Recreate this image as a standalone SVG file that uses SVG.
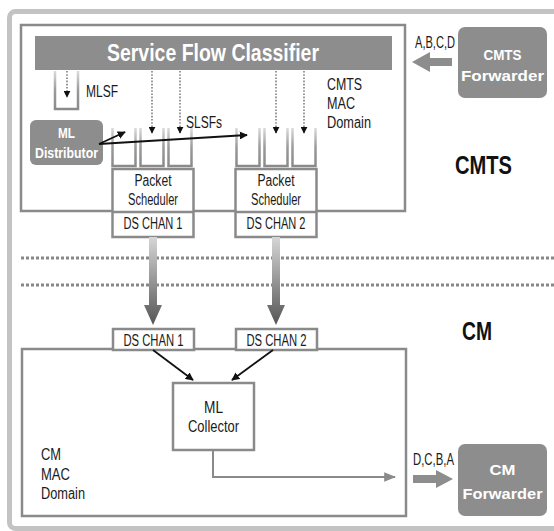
<svg xmlns="http://www.w3.org/2000/svg" width="554" height="531" viewBox="0 0 554 531">
  <style>
    text { font-family: "Liberation Sans", Arial, sans-serif; }
    .t { font-size: 16px; fill: #1a1a1a; }
    .tw { font-size: 15px; fill: #ffffff; font-weight: bold; }
    .big { font-size: 25px; fill: #111111; font-weight: bold; }
    .dom { fill: none; stroke: #8a8a8a; stroke-width: 2.5; }
    .box { fill: #ffffff; stroke: #8a8a8a; stroke-width: 2.5; }
    .solid { fill: #8d8d8d; }
    .queue { fill: none; stroke: url(#qgrad); stroke-width: 2.5; }
    .dot { stroke: #555555; stroke-width: 1.2; stroke-dasharray: 1.6 1.6; fill: none; }
    .blk { stroke: #111111; stroke-width: 1.8; fill: none; }
    .sep { stroke: #888888; stroke-width: 3; stroke-dasharray: 3 2; fill: none; }
  </style>
  <defs>
    <marker id="tri" viewBox="0 0 10 10" refX="9" refY="5" markerWidth="4.5" markerHeight="4.5" orient="auto" markerUnits="strokeWidth">
      <path d="M0,0 L10,5 L0,10 Z" fill="#111111"/>
    </marker>
    <marker id="tridot" viewBox="0 0 10 10" refX="9" refY="5" markerWidth="7" markerHeight="7" orient="auto" markerUnits="userSpaceOnUse">
      <path d="M0,0 L10,5 L0,10 Z" fill="#111111"/>
    </marker>
    <marker id="trigray" viewBox="0 0 10 10" refX="9" refY="5" markerWidth="6" markerHeight="6" orient="auto" markerUnits="strokeWidth">
      <path d="M0,1 L10,5 L0,9 Z" fill="#8a8a8a"/>
    </marker>
    <linearGradient id="qgrad" x1="0" y1="0" x2="0" y2="1">
      <stop offset="0" stop-color="#dcdcdc"/>
      <stop offset="0.5" stop-color="#9a9a9a"/>
      <stop offset="1" stop-color="#8a8a8a"/>
    </linearGradient>
    <linearGradient id="pipe" x1="0" y1="0" x2="0" y2="1">
      <stop offset="0" stop-color="#d6d6d6"/>
      <stop offset="1" stop-color="#555555"/>
    </linearGradient>
  </defs>

  <!-- outer frame -->
  <rect x="9.5" y="11.5" width="560" height="517" rx="6" fill="#ffffff" stroke="#c3c3c3" stroke-width="5"/>

  <!-- CMTS MAC domain -->
  <g id="cmts-domain">
    <rect class="dom" x="21" y="25" width="384" height="186"/>
    <text class="t" x="327" y="90" textLength="35" lengthAdjust="spacingAndGlyphs">CMTS</text>
    <text class="t" x="327" y="109" textLength="28" lengthAdjust="spacingAndGlyphs">MAC</text>
    <text class="t" x="327" y="128" textLength="44" lengthAdjust="spacingAndGlyphs">Domain</text>
  </g>

  <g id="classifier">
    <rect class="solid" x="35" y="36" width="357" height="34"/>
    <text x="213" y="61" text-anchor="middle" font-size="24" font-weight="bold" fill="#ffffff" textLength="212" lengthAdjust="spacingAndGlyphs">Service Flow Classifier</text>
  </g>

  <g id="mlsf">
    <path class="queue" d="M55,71 V109 H78 V71"/>
    <text class="t" x="86" y="97" textLength="32" lengthAdjust="spacingAndGlyphs">MLSF</text>
  </g>

  <g id="ml-distributor">
    <rect class="solid" x="30" y="120" width="73" height="45" rx="6"/>
    <text class="tw" x="66.5" y="138" text-anchor="middle" textLength="17" lengthAdjust="spacingAndGlyphs">ML</text>
    <text class="tw" x="66.5" y="158" text-anchor="middle" textLength="63" lengthAdjust="spacingAndGlyphs">Distributor</text>
  </g>

  <g id="queues-1">
    <path class="queue" d="M112.5,128 V166 H135.5 V128"/>
    <path class="queue" d="M140.5,128 V166 H163.5 V128"/>
    <path class="queue" d="M168.5,128 V166 H191.5 V128"/>
  </g>
  <g id="queues-2">
    <path class="queue" d="M236.5,128 V166 H259.5 V128"/>
    <path class="queue" d="M264.5,128 V166 H287.5 V128"/>
    <path class="queue" d="M292.5,128 V166 H315.5 V128"/>
  </g>
  <text class="t" x="186" y="128" textLength="36" lengthAdjust="spacingAndGlyphs">SLSFs</text>

  <g id="scheduler-1">
    <rect class="box" x="112.5" y="169" width="81" height="68"/>
    <line x1="112.5" y1="212" x2="193.5" y2="212" stroke="#8a8a8a" stroke-width="2.5"/>
    <text class="t" x="153" y="186" text-anchor="middle" textLength="37" lengthAdjust="spacingAndGlyphs">Packet</text>
    <text class="t" x="153" y="205" text-anchor="middle" textLength="50" lengthAdjust="spacingAndGlyphs">Scheduler</text>
    <text class="t" x="153" y="229" text-anchor="middle" textLength="59" lengthAdjust="spacingAndGlyphs">DS CHAN 1</text>
  </g>
  <g id="scheduler-2">
    <rect class="box" x="235.5" y="169" width="81" height="68"/>
    <line x1="235.5" y1="212" x2="316.5" y2="212" stroke="#8a8a8a" stroke-width="2.5"/>
    <text class="t" x="276" y="186" text-anchor="middle" textLength="37" lengthAdjust="spacingAndGlyphs">Packet</text>
    <text class="t" x="276" y="205" text-anchor="middle" textLength="50" lengthAdjust="spacingAndGlyphs">Scheduler</text>
    <text class="t" x="276" y="229" text-anchor="middle" textLength="59" lengthAdjust="spacingAndGlyphs">DS CHAN 2</text>
  </g>

  <g id="cmts-forwarder">
    <rect class="solid" x="458" y="27" width="89" height="71" rx="7"/>
    <text class="tw" x="502.5" y="60" text-anchor="middle" font-size="19" textLength="38" lengthAdjust="spacingAndGlyphs">CMTS</text>
    <text class="tw" x="502.5" y="81" text-anchor="middle" font-size="19" textLength="83" lengthAdjust="spacingAndGlyphs">Forwarder</text>
  </g>
  <text class="t" x="415" y="48" font-size="14" textLength="40" lengthAdjust="spacingAndGlyphs">A,B,C,D</text>

  <text class="big" x="455" y="174" textLength="57" lengthAdjust="spacingAndGlyphs">CMTS</text>
  <text class="big" x="462" y="340" textLength="30" lengthAdjust="spacingAndGlyphs">CM</text>

  <!-- CM MAC domain -->
  <g id="cm-domain">
    <rect class="dom" x="22" y="349" width="384" height="167"/>
    <text class="t" x="41" y="460" textLength="20" lengthAdjust="spacingAndGlyphs">CM</text>
    <text class="t" x="41" y="480" textLength="29" lengthAdjust="spacingAndGlyphs">MAC</text>
    <text class="t" x="41" y="499" textLength="44" lengthAdjust="spacingAndGlyphs">Domain</text>
  </g>

  <g id="cm-chan-1">
    <rect class="box" x="113" y="329" width="81" height="21"/>
    <text class="t" x="153.5" y="346" text-anchor="middle" textLength="60" lengthAdjust="spacingAndGlyphs">DS CHAN 1</text>
  </g>
  <g id="cm-chan-2">
    <rect class="box" x="236" y="329" width="81" height="21"/>
    <text class="t" x="276.5" y="346" text-anchor="middle" textLength="60" lengthAdjust="spacingAndGlyphs">DS CHAN 2</text>
  </g>

  <g id="ml-collector">
    <rect class="box" x="173" y="383" width="81" height="67"/>
    <text class="t" x="213.5" y="413" text-anchor="middle" textLength="19" lengthAdjust="spacingAndGlyphs">ML</text>
    <text class="t" x="213.5" y="432" text-anchor="middle" textLength="51" lengthAdjust="spacingAndGlyphs">Collector</text>
  </g>

  <g id="cm-forwarder">
    <rect class="solid" x="458" y="444" width="89" height="72" rx="7"/>
    <text class="tw" x="502.5" y="475" text-anchor="middle" font-size="19" textLength="26" lengthAdjust="spacingAndGlyphs">CM</text>
    <text class="tw" x="502.5" y="499" text-anchor="middle" font-size="19" textLength="80" lengthAdjust="spacingAndGlyphs">Forwarder</text>
  </g>
  <text class="t" x="413" y="465" font-size="14" textLength="41" lengthAdjust="spacingAndGlyphs">D,C,B,A</text>

  <!-- connectors -->
  <g id="connectors">
    <line class="dot" x1="67" y1="71" x2="67" y2="97" marker-end="url(#tridot)"/>
    <line class="dot" x1="152" y1="71" x2="152" y2="133" marker-end="url(#tridot)"/>
    <line class="dot" x1="180" y1="71" x2="180" y2="133" marker-end="url(#tridot)"/>
    <line class="dot" x1="276" y1="71" x2="276" y2="133" marker-end="url(#tridot)"/>
    <line class="dot" x1="304" y1="71" x2="304" y2="133" marker-end="url(#tridot)"/>

    <line class="blk" x1="99" y1="144" x2="125" y2="132" marker-end="url(#tri)"/>
    <line class="blk" x1="99" y1="144" x2="247" y2="135" marker-end="url(#tri)"/>

    <path class="solid" d="M412,62 L430,52 V58 H452 V66 H430 V72 Z"/>
    <path class="solid" d="M413,475 H436 V470 L453,479 L436,488 V483 H413 Z"/>

    <line class="sep" x1="21" y1="258" x2="556" y2="258"/>
    <line class="sep" x1="21" y1="285" x2="556" y2="285"/>

    <path fill="url(#pipe)" d="M149,237 H157 V305 H162 L153,325 L144,305 H149 Z"/>
    <path fill="url(#pipe)" d="M272,237 H280 V305 H285 L276,325 L267,305 H272 Z"/>

    <line class="blk" x1="153" y1="350" x2="193" y2="380" marker-end="url(#tri)"/>
    <line class="blk" x1="273" y1="350" x2="232" y2="380" marker-end="url(#tri)"/>

    <path d="M213,450 V477 H395" fill="none" stroke="#8a8a8a" stroke-width="2" marker-end="url(#trigray)"/>
  </g>
</svg>
